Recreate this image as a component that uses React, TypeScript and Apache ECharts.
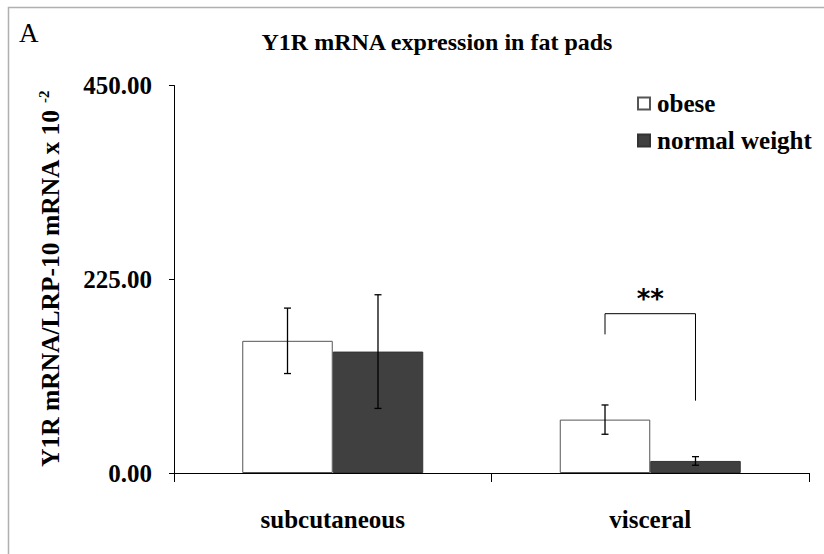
import React, { useEffect, useRef } from "react";
import * as echarts from "echarts";

const categories = ["subcutaneous", "visceral"];
const seriesNames = ["obese", "normal weight"];
const obeseValues = [153.5, 62];
const obeseErrors = [38, 17];
const normalValues = [141, 14];
const normalErrors = [66, 5];
const yTicks = [0, 225, 450];
// significance bracket on visceral: [categoryIndex, leftBottom, top, rightBottom]
const bracket = [1, 161, 185, 84];
const bracketLabel = "**";
const bracketLabelValue = 202;

const FONT = "Liberation Serif";

export default function App() {
  const ref = useRef<HTMLDivElement>(null);
  useEffect(() => {
    document.body.style.margin = "0";
    const chart = echarts.init(ref.current!, null, { renderer: "svg" });
    const gap = 0.43;
    const errData: any[] = [];
    categories.forEach((_, i) => {
      errData.push([i, obeseValues[i], obeseErrors[i], -1]);
      errData.push([i, normalValues[i], normalErrors[i], 1]);
    });
    const option: any = {
      animation: false,
      backgroundColor: "#ffffff",
      textStyle: { fontFamily: FONT },
      grid: { left: 174, right: 15, top: 85.5, bottom: 81, containLabel: false },
      legend: {
        data: seriesNames,
        orient: "vertical",
        left: 637,
        top: 91,
        padding: 0,
        itemWidth: 12,
        itemHeight: 12,
        itemGap: 12,
        icon: "rect",
        textStyle: { fontFamily: FONT, fontWeight: "bold", fontSize: 25, color: "#000", padding: [0, 0, 0, 2] },
      },
      xAxis: {
        type: "category",
        data: categories,
        axisLine: { lineStyle: { color: "#000", width: 1 } },
        axisTick: { show: true, length: 9, lineStyle: { color: "#000" } },
        axisLabel: { margin: 34, fontFamily: FONT, fontWeight: "bold", fontSize: 25, color: "#000" },
      },
      yAxis: {
        type: "value",
        min: yTicks[0],
        max: yTicks[yTicks.length - 1],
        interval: yTicks[1] - yTicks[0],
        splitLine: { show: false },
        axisLine: { show: true, lineStyle: { color: "#000", width: 1 } },
        axisTick: { show: true, length: 5, lineStyle: { color: "#000" } },
        axisLabel: {
          margin: 22,
          fontFamily: FONT,
          fontWeight: "bold",
          fontSize: 25,
          color: "#000",
          formatter: (v: number) => v.toFixed(2),
        },
      },
      series: [
        {
          name: seriesNames[0],
          type: "bar",
          data: obeseValues,
          barGap: "0%",
          barCategoryGap: gap * 100 + "%",
          itemStyle: { color: "#ffffff", borderColor: "#555555", borderWidth: 1 },
        },
        {
          name: seriesNames[1],
          type: "bar",
          data: normalValues,
          barGap: "0%",
          barCategoryGap: gap * 100 + "%",
          itemStyle: { color: "#404040", borderColor: "#333333", borderWidth: 1 },
        },
        {
          type: "custom",
          name: "err",
          data: errData,
          z: 10,
          renderItem: (params: any, api: any) => {
            const cat = api.value(0);
            const v = api.value(1);
            const e = api.value(2);
            const side = api.value(3);
            const band = api.size([1, 0])[0];
            const bw = (band * (1 - gap)) / 2;
            const c = api.coord([cat, v]);
            const x = c[0] + (side * bw) / 2;
            const hi = api.coord([cat, v + e])[1];
            const lo = api.coord([cat, v - e])[1];
            const cap = 3.5;
            const st = { stroke: "#000", lineWidth: 1.3 };
            return {
              type: "group",
              children: [
                { type: "line", shape: { x1: x, y1: hi, x2: x, y2: lo }, style: st },
                { type: "line", shape: { x1: x - cap, y1: hi, x2: x + cap, y2: hi }, style: st },
                { type: "line", shape: { x1: x - cap, y1: lo, x2: x + cap, y2: lo }, style: st },
              ],
            };
          },
        },
        {
          type: "custom",
          name: "sig",
          data: [bracket],
          z: 10,
          renderItem: (params: any, api: any) => {
            const cat = api.value(0);
            const band = api.size([1, 0])[0];
            const bw = (band * (1 - gap)) / 2;
            const cx = api.coord([cat, 0])[0];
            const xl = cx - bw / 2;
            const xr = cx + bw / 2;
            const yl = api.coord([cat, api.value(1)])[1];
            const yt = api.coord([cat, api.value(2)])[1];
            const yr = api.coord([cat, api.value(3)])[1];
            const yLab = api.coord([cat, bracketLabelValue])[1];
            return {
              type: "group",
              children: [
                {
                  type: "polyline",
                  shape: { points: [[xl, yl], [xl, yt], [xr, yt], [xr, yr]] },
                  style: { stroke: "#000", lineWidth: 1, fill: "none" },
                },
                {
                  type: "text",
                  x: cx,
                  y: yLab,
                  style: {
                    text: bracketLabel,
                    fontFamily: "DejaVu Sans",
                    fontWeight: "bold",
                    fontSize: 26,
                    fill: "#000",
                    align: "center",
                    verticalAlign: "middle",
                  },
                },
              ],
            };
          },
        },
      ],
      graphic: [
        {
          type: "rect",
          shape: { x: 8.5, y: 7.5, width: 830, height: 560 },
          style: { fill: "none", stroke: "#b0b0b0", lineWidth: 1.5 },
          silent: true,
        },
        {
          type: "text",
          x: 19,
          y: 33,
          style: { text: "A", fontFamily: FONT, fontSize: 27, fill: "#000", verticalAlign: "middle" },
        },
        {
          type: "text",
          x: 437,
          y: 42,
          style: {
            text: "Y1R mRNA expression in fat pads",
            fontFamily: FONT,
            fontWeight: "bold",
            fontSize: 24,
            fill: "#000",
            align: "center",
            verticalAlign: "middle",
          },
        },
        {
          type: "text",
          x: 50,
          y: 279,
          rotation: Math.PI / 2,
          style: {
            text: "{a|Y1R mRNA/LRP-10 mRNA x 10 }{s|-2}",
            align: "center",
            verticalAlign: "middle",
            rich: {
              a: { fontFamily: FONT, fontWeight: "bold", fontSize: 25.5, fill: "#000", lineHeight: 28 },
              s: { fontFamily: FONT, fontWeight: "bold", fontSize: 15, fill: "#000", lineHeight: 28, verticalAlign: "top" },
            },
          },
        },
      ],
    };
    chart.setOption(option);
    return () => chart.dispose();
  }, []);
  return <div ref={ref} style={{ width: 824, height: 554 }} />;
}
